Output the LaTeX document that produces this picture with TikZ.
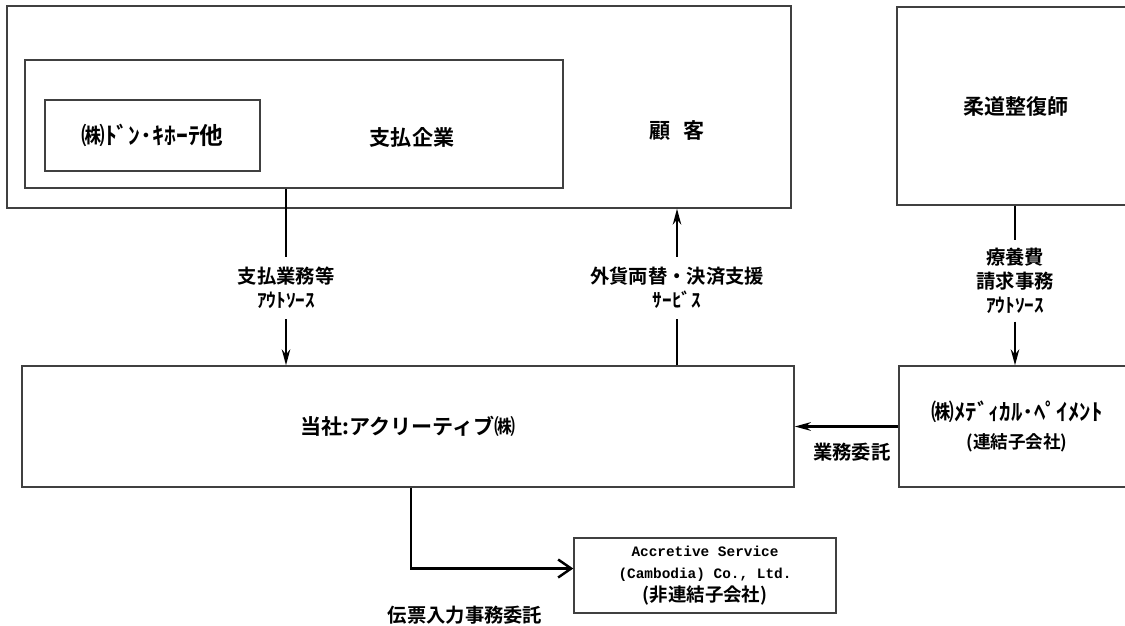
\documentclass[tikz,border=0pt]{standalone}
\usepackage{fontspec}
\setmainfont{Noto Sans CJK JP}[BoldFont={Noto Sans CJK JP Bold}]
\newfontfamily\eigomono{Liberation Mono}
\usetikzlibrary{arrows.meta}

\begin{document}
\begin{tikzpicture}[>={Stealth[length=3.2mm,width=1.7mm]},
waku/.style={rectangle,draw=black!75,line width=.8pt,inner sep=0pt},
midashi/.style={font=\bfseries\fontsize{12}{14}\selectfont},
setsumei/.style={fill=white,align=center,inner xsep=1mm,inner ysep=2mm,
  font=\bfseries\fontsize{11}{13.6}\selectfont}]

\useasboundingbox (0,0) rectangle (22.5,-12.5);

\node[waku,minimum width=15.68cm,minimum height=4.04cm](kokyaku) at (7.98,-2.14){};
\node[waku,minimum width=10.76cm,minimum height=2.56cm](shiharai) at (5.88,-2.48){};
\node[waku,minimum width=4.3cm,minimum height=1.42cm,
  font=\bfseries\fontsize{13.5}{15}\selectfont](donki) at (3.05,-2.71){㈱ﾄﾞﾝ･ｷﾎｰﾃ他};
\node[midashi](shiharai-moji) at (8.24,-2.74){支払企業};
\node[midashi](kokyaku-moji) at (13.54,-2.62){顧\hspace{.6em}客};

\node[waku,midashi,minimum width=4.76cm,minimum height=3.96cm](judo) at (20.32,-2.12){柔道整復師};

\node[waku,midashi,minimum width=15.44cm,minimum height=2.42cm](tosha) at (8.16,-8.53){当社:アクリーティブ㈱};

\node[waku,align=center,minimum width=4.72cm,minimum height=2.42cm,
  font=\bfseries\fontsize{13}{16.4}\selectfont](medical) at (20.34,-8.53){㈱ﾒﾃﾞｨｶﾙ･ﾍﾟｲﾒﾝﾄ\\{\fontsize{10}{12}\selectfont (連結子会社)}};

\node[waku,align=center,minimum width=5.24cm,minimum height=1.5cm,
  font=\eigomono\bfseries\fontsize{8.2}{12.8}\selectfont](accretive) at (14.1,-11.51){Accretive Service\\(Cambodia) Co., Ltd.\\{\rmfamily\fontsize{10.5}{12.8}\selectfont (非連結子会社)}};

\node[setsumei](gaichu) at (5.72,-5.76){支払業務等\\ｱｳﾄｿｰｽ};
\node[setsumei](kessai) at (13.54,-5.76){外貨両替・決済支援\\ｻｰﾋﾞｽ};
\node[setsumei,inner ysep=1.5mm](ryoyo) at (20.3,-5.62){療養費\\請求事務\\ｱｳﾄｿｰｽ};
\node[setsumei,fill=none](denpyo) at (9.3,-12.3){伝票入力事務委託};

\coordinate (kado) at (8.22,-11.36);

\begin{scope}[line width=1.1pt]
\draw (shiharai.south -| gaichu) -- (gaichu);
\draw[->] (gaichu) -- (gaichu |- tosha.north);
\draw (tosha.north -| kessai) -- (kessai);
\draw[->] (kessai) -- (kessai |- kokyaku.south);
\draw (judo.south -| ryoyo) -- (ryoyo);
\draw[->] (ryoyo) -- (ryoyo |- medical.north);
\draw[->,line width=1.7pt] (medical) -- (tosha) node[setsumei,fill=none,pos=.45,below=1mm](itaku){業務委託};
\draw[-{Straight Barb[length=2.6mm,width=3.6mm]},line width=1.4pt] (tosha.south -| kado) |- ([yshift=.14cm]accretive.west);
\end{scope}

\end{tikzpicture}
\end{document}
